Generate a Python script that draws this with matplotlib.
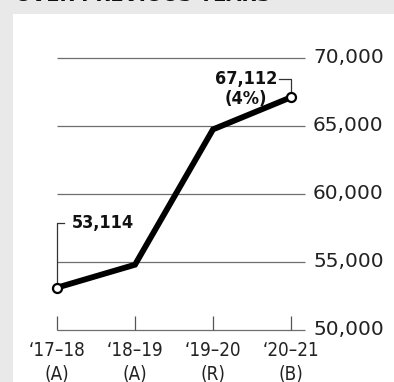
import matplotlib
matplotlib.use('Agg')
import matplotlib.pyplot as plt

# data
years = ['\u201817\u201318\n(A)', '\u201818\u201319\n(A)', '\u201819\u201320\n(R)', '\u201820\u201321\n(B)']
values = [53114, 54800, 64750, 67112]
yticks = [50000, 55000, 60000, 65000, 70000]
first_label = '53,114'
last_label = '67,112\n(4%)'

plt.rcParams['font.family'] = ['DejaVu Sans']

fig = plt.figure(figsize=(3.94, 3.82), dpi=100, facecolor='#e9e9e9')
W, H = 394, 382

# white panel; pixel layout: x=0 at px 57, step 78px; 50,000 at px 330, 5,000 per 68px
ax = fig.add_axes([13 / W, 0, (W - 13) / W, (H - 14) / H])
ax.set_facecolor('white')
x0, dx = 57, 78
y0, dy = 330, 68
ax.set_xlim((13 - x0) / dx, (W - x0) / dx)
ax.set_ylim(50000 - (H - y0) / dy * 5000, 50000 + (y0 - 14) / dy * 5000)
ax.set_xticks([])
ax.set_yticks([])
for s in ax.spines.values():
    s.set_visible(False)

xs = list(range(len(values)))
x_right = (305 - x0) / dx

# gridlines and right labels
for v in yticks:
    ax.hlines(v, 0, x_right, color='#6e6e6e', lw=0.9, zorder=1)
    ax.text((313 - x0) / dx, v, f'{v:,}', ha='left', va='center', fontsize=14.5,
            color='#222222')

# x ticks
tick_top = 50000 + 14 / dy * 5000
for i, lab in zip(xs, years):
    ax.vlines(i, 50000, tick_top, color='#555555', lw=0.9)
    ax.text(i, 50000 - 11 / dy * 5000, lab, ha='center', va='top', fontsize=13.5,
            color='#222222', linespacing=1.3, fontstretch='condensed')

# main line
ax.plot(xs, values, color='black', lw=4.2, solid_joinstyle='miter', zorder=3)
ax.plot([xs[0], xs[-1]], [values[0], values[-1]], 'o', ms=6.5, mfc='white', mec='black',
        mew=1.6, zorder=4)

# first point callout
top1 = 50000 + (y0 - 223) / dy * 5000
ax.plot([0, 0, 7 / dx], [values[0], top1, top1], color='#333333', lw=0.9, zorder=2)
ax.text(15 / dx, top1, first_label, ha='left', va='center', fontsize=13,
        fontweight='bold', color='#111111', fontstretch='condensed')

# last point callout
top2 = 50000 + (y0 - 79) / dy * 5000
ax.plot([3 - 12 / dx, 3, 3], [top2, top2, values[-1]], color='#333333', lw=0.9, zorder=2)
ax.text((246 - x0) / dx, top2 + 9 / dy * 5000, last_label, ha='center', va='top', fontsize=13,
        fontweight='bold', color='#111111', linespacing=1.15, fontstretch='condensed')

# cut-off heading at the top
fig.text(15 / W, 1 + 4.5 / H, 'OVER PREVIOUS YEARS', ha='left', va='center', fontsize=14,
         fontweight='bold', color='#111111')

fig.savefig('out.png', dpi=100, facecolor=fig.get_facecolor())
